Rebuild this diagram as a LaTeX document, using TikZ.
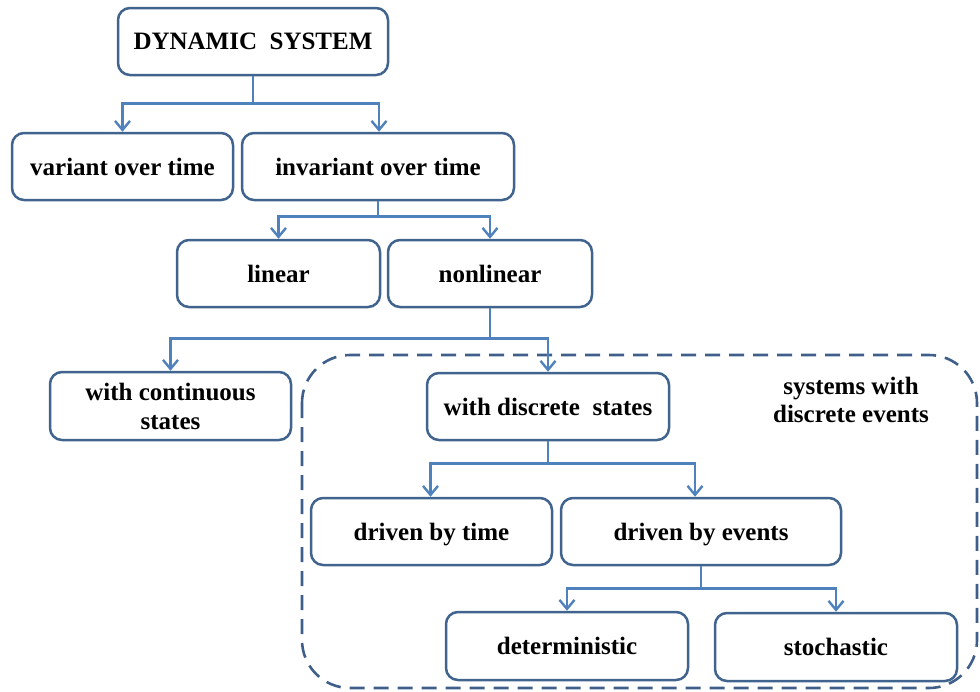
\documentclass[tikz,border=0pt]{standalone}
\usepackage{fontspec}
\setmainfont{Liberation Serif}
\usetikzlibrary{arrows.meta,calc}
\definecolor{boxc}{HTML}{41648F}
\definecolor{linec}{HTML}{4F81BD}
\definecolor{dashc}{HTML}{3F5F8A}
\begin{document}
\begin{tikzpicture}[x=1pt,y=-1pt,
  box/.style={draw=boxc,line width=2.5pt,rounded corners=12pt,fill=white,align=center,
    font=\fontsize{25}{29}\selectfont\bfseries,inner sep=0pt,text depth=0pt},
  conn/.style={draw=linec,line width=2.6pt,-{Straight Barb[length=9pt,width=15pt,line width=2.4pt]}},
  lbl/.style={align=center,font=\fontsize{25}{28}\selectfont\bfseries}]
\useasboundingbox (0,0) rectangle (980,691);
\draw[dashc,line width=2.6pt,dash pattern=on 15pt off 9pt,rounded corners=48pt] (302,355) rectangle (977,688);
\node[lbl] (sde) at (851,400) {systems with\\discrete events};
\node[box,minimum width=270pt,minimum height=67pt] (ds) at (253,41.5) {DYNAMIC\ \ SYSTEM};
\node[box,minimum width=221pt,minimum height=67pt] (v) at (122.5,166.5) {variant over time};
\node[box,minimum width=272pt,minimum height=67pt] (inv) at (378,166.5) {invariant over time};
\node[box,minimum width=203pt,minimum height=67pt] (lin) at (278.5,273.5) {linear};
\node[box,minimum width=204pt,minimum height=67pt] (nl) at (490,273.5) {nonlinear};
\node[box,minimum width=241pt,minimum height=68pt] (cs) at (170.5,406) {with continuous\\states};
\node[box,minimum width=242pt,minimum height=67pt] (dst) at (548,406.5) {with discrete\ \ states};
\node[box,minimum width=241pt,minimum height=67pt] (dt) at (431.5,531.5) {driven by time};
\node[box,minimum width=280pt,minimum height=67pt] (de) at (701,531.5) {driven by events};
\node[box,minimum width=242pt,minimum height=68pt] (det) at (567,646) {deterministic};
\node[box,minimum width=242pt,minimum height=68pt] (sto) at (836,647) {stochastic};
\draw[conn] (ds.south) |- ([yshift=28pt]v.north) -- (v.north);
\draw[conn] (ds.south) |- ([yshift=28pt,xshift=1pt]inv.north) -- ([xshift=1pt]inv.north);
\draw[conn] (inv.south) |- ([yshift=22pt]lin.north) -- (lin.north);
\draw[conn] (inv.south) |- ([yshift=22pt]nl.north) -- (nl.north);
\draw[conn] (nl.south) |- ([yshift=32pt]cs.north) -- (cs.north);
\draw[conn] (nl.south) |- ([yshift=33pt]dst.north) -- (dst.north);
\draw[conn] (dst.south) |- ([yshift=33pt,xshift=-1pt]dt.north) -- ([xshift=-1pt]dt.north);
\draw[conn] (dst.south) |- ([yshift=33pt,xshift=-6pt]de.north) -- ([xshift=-6pt]de.north);
\draw[conn] (de.south) |- ([yshift=22pt]det.north) -- (det.north);
\draw[conn] (de.south) |- ([yshift=23pt]sto.north) -- (sto.north);
\end{tikzpicture}
\end{document}
